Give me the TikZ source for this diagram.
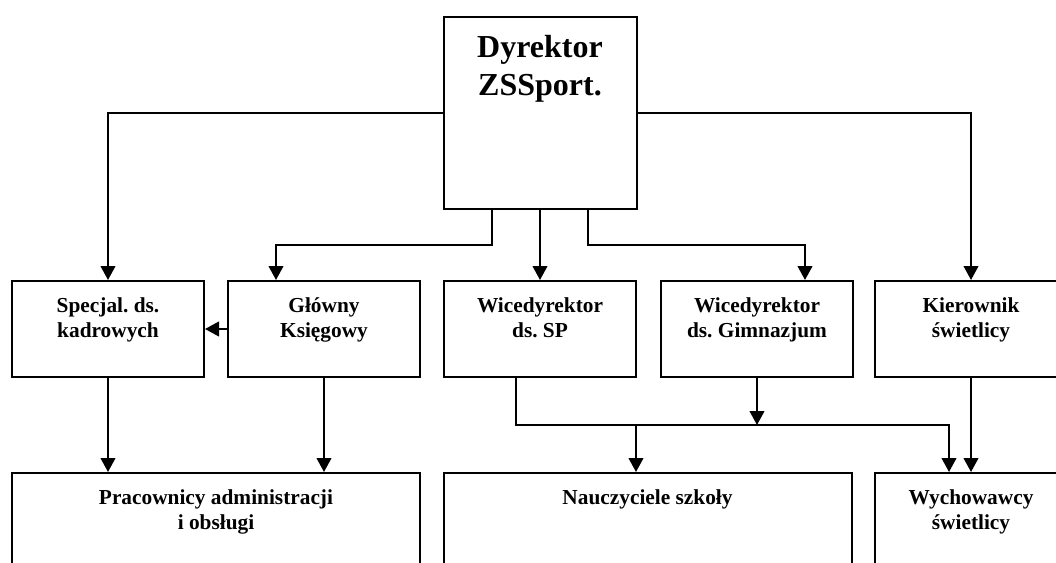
\documentclass[tikz,border=0pt]{standalone}
\usepackage{fontspec}
\setmainfont{Liberation Serif}
\usetikzlibrary{arrows.meta,calc}

\begin{document}
\frenchspacing
\begin{tikzpicture}[
            x = 0.75pt, y = -0.75pt,
            line width = 1.5pt,
            txt/.style = {anchor = north, inner sep = 0pt, align = center,
                font = \bfseries\fontsize{16}{18.75}\selectfont, yshift = -10.4pt},
            box/.style = {draw, minimum width = 144pt, minimum height = 72pt,
                label = {[txt]north:\strut #1}},
            wide/.style = {draw, minimum width = 306pt, minimum height = 105pt,
                label = {[txt]north:\strut #1}},
            arr/.style = {-{Triangle[length = 10.5pt, width = 11pt]}}]
        \clip (0,0) rectangle (1056,563);
        \fill[white] (0,0) rectangle (1056,563);

        \node[draw, minimum width = 144.75pt, minimum height = 144pt,
            label = {[txt, font = \bfseries\fontsize{24}{28.5}\selectfont, yshift = -0.4pt]
            north:\strut Dyrektor\\ ZSSport.}] (dyr) at (540,113) {};

        \node[box = {Specjal. ds.\\ kadrowych}] (kadry) at (108,329) {};
        \node[box = {Główny\\ Księgowy}] (ksieg) at (324,329) {};
        \node[box = {Wicedyrektor\\ ds. SP}] (wsp) at (540,329) {};
        \node[box = {Wicedyrektor\\ ds. Gimnazjum}] (wgim) at (757,329) {};
        \node[box = {Kierownik\\ świetlicy}] (kier) at (971,329) {};

        \node[wide = {Pracownicy administracji\\ i obsługi}] (prac) at (216,543) {};
        \node[wide = {Nauczyciele szkoły}] (naucz) at (647.5,543) {};
        \node[box = {Wychowawcy\\ świetlicy}, minimum height = 105pt] (wych) at (971,543) {};

        \coordinate (lk) at (276,245);
        \coordinate (lg) at (805,245);
        \coordinate (lw) at (949,425);
        \coordinate (ln) at (636,425);

        \draw[arr] (dyr.west) -| (kadry.north);
        \draw[arr] (dyr.east) -| (kier.north);
        \draw[arr] ($(dyr.south)+(-48,0)$) |- (lk) -- (lk |- ksieg.north);
        \draw[arr] (dyr.south) -- (wsp.north);
        \draw[arr] ($(dyr.south)+(48,0)$) |- (lg) -- (lg |- wgim.north);
        \draw[arr] (ksieg.west) -- (kadry.east);
        \draw[arr] (kadry.south) -- (kadry.south |- prac.north);
        \draw[arr] (ksieg.south) -- (ksieg.south |- prac.north);
        \draw[arr] ($(wsp.south)+(-24,0)$) |- (lw) -- (lw |- wych.north);
        \draw[arr] (wgim.south) -- (wgim.south |- lw);
        \draw[arr] (ln) -- (ln |- naucz.north);
        \draw[arr] (kier.south) -- (kier.south |- wych.north);
\end{tikzpicture}
\end{document}
